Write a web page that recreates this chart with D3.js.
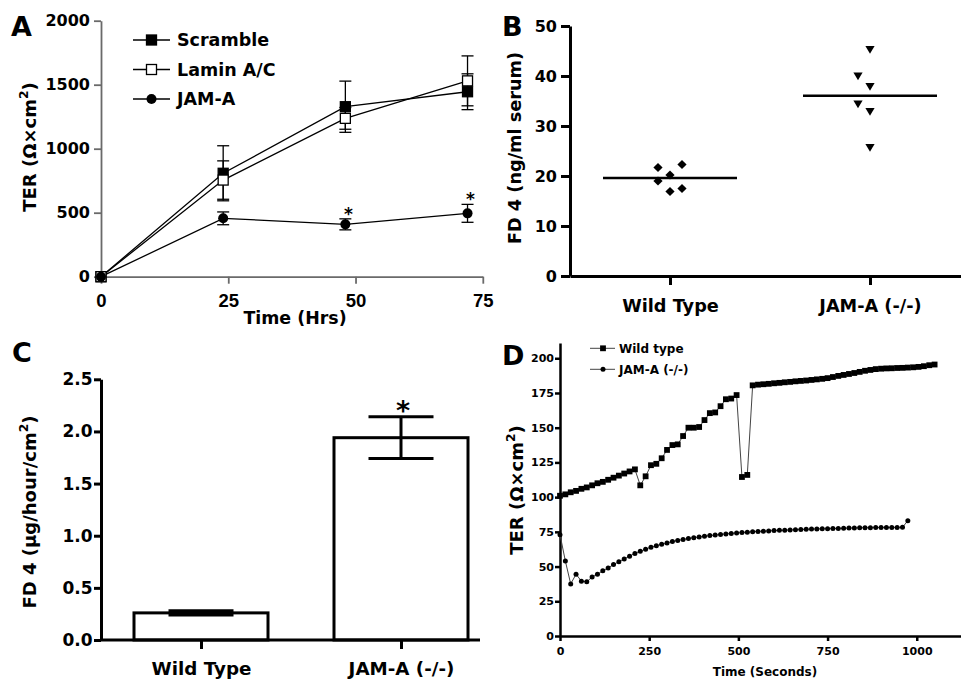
<!DOCTYPE html>
<html>
<head>
<meta charset="utf-8">
<script src="https://cdn.jsdelivr.net/npm/d3@7"></script>
<style>
body { margin: 0; background: #fff; }
text { font-family: "DejaVu Sans", sans-serif; font-weight: bold; fill: #000; }
</style>
</head>
<body>
<div class="mainContainer"></div>
<script>
// ---------- data ----------
// A: TER over time (hours), mean and error
const hoursA = [0, 24, 48, 72];
const scrambleMean = [0, 808, 1328, 1445];
const scrambleErr = [0, 215, 200, 140];
const laminMean = [0, 755, 1237, 1530];
const laminErr = [0, 150, 85, 195];
const jamMean = [0, 456, 409, 495];
const jamErr = [0, 50, 43, 70];
const jamSigA = [false, false, true, true];
const ticksAx = [0, 25, 50, 75];
const ticksAy = [0, 500, 1000, 1500, 2000];

// B: FD4 in serum, individual animals
const groupsB = ['Wild Type', 'JAM-A (-/-)'];
const fd4Wild = [20.2, 16.9, 21.7, 19.0, 22.3, 17.5];
const fd4Jam = [45.3, 37.9, 32.9, 25.7, 34.4, 40.0];
const ticksBy = [0, 10, 20, 30, 40, 50];

// C: FD4 flux
const groupsC = ['Wild Type', 'JAM-A (-/-)'];
const fluxMean = [0.26, 1.94];
const fluxErr = [0.02, 0.2];
const fluxSig = [false, true];
const ticksCy = [0, 0.5, 1.0, 1.5, 2.0, 2.5];

// D: TER recordings, one sample every 15 s
const sampleSec = 15;
const wtTER = [101, 102, 103.5, 104.5, 106, 107, 108.5, 110, 111, 112.5, 114, 115.5, 117, 118.5, 120,
  108.5, 115, 123, 124, 128, 134, 137.5, 138, 144, 150, 150, 150.5, 155.5, 160.5, 161, 165.5, 170.5, 171, 173.5, 114.5, 116, 180.5,
  181, 181.3, 181.6, 182, 182.3, 182.7, 183, 183.4, 183.7, 184, 184.4, 184.8, 185.2, 185.7, 186.5, 187.3, 188, 188.7, 189.4, 190.2,
  191, 191.6, 192.2, 192.5, 192.7, 192.8, 193, 193.1, 193.3, 193.5, 193.8, 194.3, 195, 195.5];
const jamTER = [73, 54, 37.5, 44.5, 39.5, 39, 42.5, 44.5, 47, 49, 51.5, 53.5, 55.5, 57.5, 59.5, 61, 62.5, 64, 65, 66,
  67, 68, 68.8, 69.5, 70.2, 70.8, 71.3, 71.8, 72.3, 72.7, 73.1, 73.5, 73.9, 74.2, 74.5, 74.8, 75.1, 75.3, 75.5, 75.7,
  75.9, 76.1, 76.2, 76.4, 76.5, 76.7, 76.8, 77, 77.1, 77.2, 77.3, 77.4, 77.5, 77.6, 77.7, 77.8, 77.9, 78, 78, 78.1,
  78.1, 78.2, 78.2, 78.2, 78.3, 83];
const ticksDx = [0, 250, 500, 750, 1000];
const ticksDy = [0, 25, 50, 75, 100, 125, 150, 175, 200];

// ---------- helpers ----------
const svg = d3.select('.mainContainer')
  .append('svg')
  .attr('width', 961)
  .attr('height', 679);

svg.append('rect').attr('width', 961).attr('height', 679).attr('fill', '#fff');

const styleAxis = (g, color, width, size, family) => {
  g.attr('font-family', null).attr('font-size', null);
  g.select('.domain').attr('stroke', color).attr('stroke-width', width);
  g.selectAll('.tick line').attr('stroke', color).attr('stroke-width', width);
  g.selectAll('.tick text').style('font-size', size + 'px');
  if (family) g.selectAll('.tick text').style('font-family', family);
};

const supTitle = (g, x, y, rotate, size, before, sup, after) => {
  const t = g.append('text')
    .attr('transform', `translate(${x},${y})` + (rotate ? ' rotate(-90)' : ''))
    .attr('text-anchor', 'middle')
    .style('font-size', size + 'px');
  t.append('tspan').text(before);
  if (sup) {
    t.append('tspan').attr('dy', -0.42 * size).style('font-size', (0.68 * size) + 'px').text(sup);
    t.append('tspan').attr('dy', 0.42 * size).text(after);
  }
  return t;
};

const panelLetter = (x, y, s) => svg.append('text')
  .attr('x', x).attr('y', y)
  .style('font-size', '27px')
  .text(s);

const intFmt = d3.format('d');

// ---------- panel A ----------
const gA = svg.append('g');
const xA = d3.scaleLinear().domain([0, 75]).range([101, 482.8]);
const yA = d3.scaleLinear().domain([0, 2000]).range([276.7, 20.7]);

const xAxisA = gA.append('g')
  .attr('transform', `translate(0,${yA(0)})`)
  .call(d3.axisBottom(xA).tickValues(ticksAx).tickFormat(intFmt).tickSize(7).tickPadding(10).tickSizeOuter(0));
styleAxis(xAxisA, '#6a6a6a', 1.8, 18.5, '"Liberation Sans", Arial, sans-serif');

const yAxisA = gA.append('g')
  .attr('transform', `translate(${xA(0)},0)`)
  .call(d3.axisLeft(yA).tickValues(ticksAy).tickFormat(intFmt).tickSize(7).tickPadding(4).tickSizeOuter(0));
styleAxis(yAxisA, '#6a6a6a', 1.8, 16);

const seriesA = [
  { name: 'Scramble', mean: scrambleMean, err: scrambleErr, shape: 'square', fill: '#000' },
  { name: 'Lamin A/C', mean: laminMean, err: laminErr, shape: 'square', fill: '#fff' },
  { name: 'JAM-A', mean: jamMean, err: jamErr, shape: 'circle', fill: '#000' }
];

const lineA = d3.line().x((d, i) => xA(hoursA[i])).y(d => yA(d));

seriesA.forEach(s => {
  const eb = gA.append('g').attr('stroke', '#000').attr('stroke-width', 1.3);
  s.mean.forEach((m, i) => {
    if (!s.err[i]) return;
    const x = xA(hoursA[i]);
    eb.append('line').attr('x1', x).attr('x2', x).attr('y1', yA(m - s.err[i])).attr('y2', yA(m + s.err[i]));
    [m - s.err[i], m + s.err[i]].forEach(v => {
      eb.append('line').attr('x1', x - 6).attr('x2', x + 6).attr('y1', yA(v)).attr('y2', yA(v));
    });
  });
});

seriesA.forEach(s => {
  gA.append('path').attr('d', lineA(s.mean)).attr('fill', 'none').attr('stroke', '#000').attr('stroke-width', 1.3);
});

const drawMarkerA = (g, shape, fill, x, y) => {
  if (shape === 'square') {
    g.append('rect').attr('x', x - 5).attr('y', y - 5).attr('width', 10).attr('height', 10)
      .attr('fill', fill).attr('stroke', '#000').attr('stroke-width', 1.3);
  } else {
    g.append('circle').attr('cx', x).attr('cy', y).attr('r', 5).attr('fill', fill);
  }
};

seriesA.forEach(s => {
  s.mean.forEach((m, i) => drawMarkerA(gA, s.shape, s.fill, xA(hoursA[i]), yA(m)));
});

jamMean.forEach((m, i) => {
  if (!jamSigA[i]) return;
  gA.append('text')
    .attr('x', xA(hoursA[i]) + 3)
    .attr('y', yA(m + jamErr[i]) + 1)
    .attr('text-anchor', 'middle')
    .style('font-size', '17px')
    .text('*');
});

const legA = gA.append('g');
seriesA.forEach((s, i) => {
  const y = 40 + i * 29.5;
  legA.append('line').attr('x1', 133).attr('x2', 170).attr('y1', y).attr('y2', y)
    .attr('stroke', '#000').attr('stroke-width', 1.3);
  drawMarkerA(legA, s.shape, s.fill, 151.5, y);
  legA.append('text').attr('x', 177).attr('y', y).attr('dy', '0.36em')
    .style('font-size', '17.5px').text(s.name);
});

supTitle(gA, 36, 147, true, 18, 'TER (\u03A9\u00D7cm', '2', ')');
gA.append('text').attr('x', 295).attr('y', 323.5).attr('text-anchor', 'middle')
  .style('font-size', '17.4px').text('Time (Hrs)');
panelLetter(11, 36, 'A');

// ---------- panel B ----------
const gB = svg.append('g');
const xB = d3.scalePoint().domain(groupsB).range([570, 970]).padding(0.5);
const yB = d3.scaleLinear().domain([0, 50]).range([276, 26]);

const xAxisB = gB.append('g')
  .attr('transform', `translate(0,${yB(0)})`)
  .call(d3.axisBottom(xB).tickSize(9).tickPadding(14).tickSizeOuter(0));
styleAxis(xAxisB, '#000', 3, 17.7);

const yAxisB = gB.append('g')
  .attr('transform', `translate(${xB.range()[0]},0)`)
  .call(d3.axisLeft(yB).tickValues(ticksBy).tickSize(9).tickPadding(4).tickSizeOuter(0));
styleAxis(yAxisB, '#000', 3, 16);

// simple column layout for overlapping points
const swarm = (values, y, gap, step) => {
  const placed = [];
  return values.map(v => {
    const py = y(v);
    for (const slot of [0, -1, 1, -2, 2]) {
      if (!placed.some(p => p.slot === slot && Math.abs(p.y - py) < gap)) {
        placed.push({ slot, y: py });
        return { v, dx: slot * step };
      }
    }
    return { v, dx: 0 };
  });
};

const diamond = 'M0,-4.6L4.6,0L0,4.6L-4.6,0Z';
const triDown = 'M-4.6,-3.6L4.6,-3.6L0,4.2Z';

[[fd4Wild, diamond], [fd4Jam, triDown]].forEach(([vals, shape], gi) => {
  const cx = xB(groupsB[gi]);
  gB.selectAll(null)
    .data(swarm(vals, yB, 12, 12))
    .enter()
    .append('path')
    .attr('d', shape)
    .attr('transform', d => `translate(${cx + d.dx},${yB(d.v)})`)
    .attr('fill', '#000');
  const m = d3.mean(vals);
  gB.append('line').attr('x1', cx - 67).attr('x2', cx + 67).attr('y1', yB(m)).attr('y2', yB(m))
    .attr('stroke', '#000').attr('stroke-width', 2.5);
});

supTitle(gB, 521, 148, true, 17.7, 'FD 4 (ng/ml serum)');
panelLetter(502, 36, 'B');

// ---------- panel C ----------
const gC = svg.append('g');
const xC = d3.scalePoint().domain(groupsC).range([101, 501]).padding(0.5);
const yC = d3.scaleLinear().domain([0, 2.5]).range([640, 379.3]);
const barW = 134;

gC.selectAll('rect.bar')
  .data(fluxMean)
  .enter()
  .append('rect')
  .attr('class', 'bar')
  .attr('x', (d, i) => xC(groupsC[i]) - barW / 2)
  .attr('width', barW)
  .attr('y', d => yC(d))
  .attr('height', d => yC(0) - yC(d))
  .attr('fill', '#fff')
  .attr('stroke', '#000')
  .attr('stroke-width', 3);

fluxMean.forEach((m, i) => {
  const cx = xC(groupsC[i]);
  const lo = yC(m - fluxErr[i]), hi = yC(m + fluxErr[i]);
  const eb = gC.append('g').attr('stroke', '#000').attr('stroke-width', 3);
  eb.append('line').attr('x1', cx).attr('x2', cx).attr('y1', lo).attr('y2', hi);
  [lo, hi].forEach(y => eb.append('line').attr('x1', cx - 32.5).attr('x2', cx + 32.5).attr('y1', y).attr('y2', y));
  if (fluxSig[i]) {
    gC.append('text').attr('x', cx + 2).attr('y', hi + 3).attr('text-anchor', 'middle')
      .style('font-size', '27px').text('*');
  }
});

const xAxisC = gC.append('g')
  .attr('transform', `translate(0,${yC(0)})`)
  .call(d3.axisBottom(xC).tickSize(9).tickPadding(13).tickSizeOuter(0));
styleAxis(xAxisC, '#000', 3, 18.3);
xAxisC.select('.domain').attr('d', `M${xC.range()[0]},0H480`);

const yAxisC = gC.append('g')
  .attr('transform', `translate(${xC.range()[0]},0)`)
  .call(d3.axisLeft(yC).tickValues(ticksCy).tickFormat(d3.format('.1f')).tickSize(7).tickPadding(1.5).tickSizeOuter(0));
styleAxis(yAxisC, '#000', 3, 17);

supTitle(gC, 35.5, 512, true, 18, 'FD 4 (\u03BCg/hour/cm', '2', ')');
panelLetter(12, 362, 'C');

// ---------- panel D ----------
const gD = svg.append('g');
const xD = d3.scaleLinear().domain([0, 1124]).range([560, 961]);
const yD = d3.scaleLinear().domain([0, 211]).range([636, 343]);

const xAxisD = gD.append('g')
  .attr('transform', `translate(0,${yD(0)})`)
  .call(d3.axisBottom(xD).tickValues(ticksDx).tickFormat(intFmt).tickSize(5).tickPadding(6).tickSizeOuter(0));
styleAxis(xAxisD, '#000', 2.5, 11);

const yAxisD = gD.append('g')
  .attr('transform', `translate(${xD(0)},0)`)
  .call(d3.axisLeft(yD).tickValues(ticksDy).tickFormat(intFmt).tickSize(5).tickPadding(1).tickSizeOuter(0));
styleAxis(yAxisD, '#000', 2.5, 11);

const seriesD = [
  { name: 'Wild type', values: wtTER, shape: 'square' },
  { name: 'JAM-A (-/-)', values: jamTER, shape: 'circle' }
];

const lineD = d3.line().x((d, i) => xD(i * sampleSec)).y(d => yD(d));

const drawMarkerD = (g, shape, x, y) => {
  if (shape === 'square') {
    g.append('rect').attr('x', x - 2.9).attr('y', y - 2.9).attr('width', 5.8).attr('height', 5.8).attr('fill', '#000');
  } else {
    g.append('circle').attr('cx', x).attr('cy', y).attr('r', 2.5).attr('fill', '#000');
  }
};

seriesD.forEach(s => {
  gD.append('path').attr('d', lineD(s.values)).attr('fill', 'none').attr('stroke', '#444').attr('stroke-width', 1);
  s.values.forEach((v, i) => drawMarkerD(gD, s.shape, xD(i * sampleSec), yD(v)));
});

seriesD.forEach((s, i) => {
  const y = 348.3 + i * 21;
  gD.append('line').attr('x1', 590).attr('x2', 615).attr('y1', y).attr('y2', y).attr('stroke', '#444').attr('stroke-width', 1);
  drawMarkerD(gD, s.shape, 603, y);
  gD.append('text').attr('x', 619).attr('y', y).attr('dy', '0.36em').style('font-size', '12px').text(s.name);
});

supTitle(gD, 523, 490, true, 18, 'TER (\u03A9\u00D7cm', '2', ')');
gD.append('text').attr('x', 765).attr('y', 676).attr('text-anchor', 'middle')
  .style('font-size', '12px').text('Time (Seconds)');
panelLetter(502, 365, 'D');
</script>
</body>
</html>
